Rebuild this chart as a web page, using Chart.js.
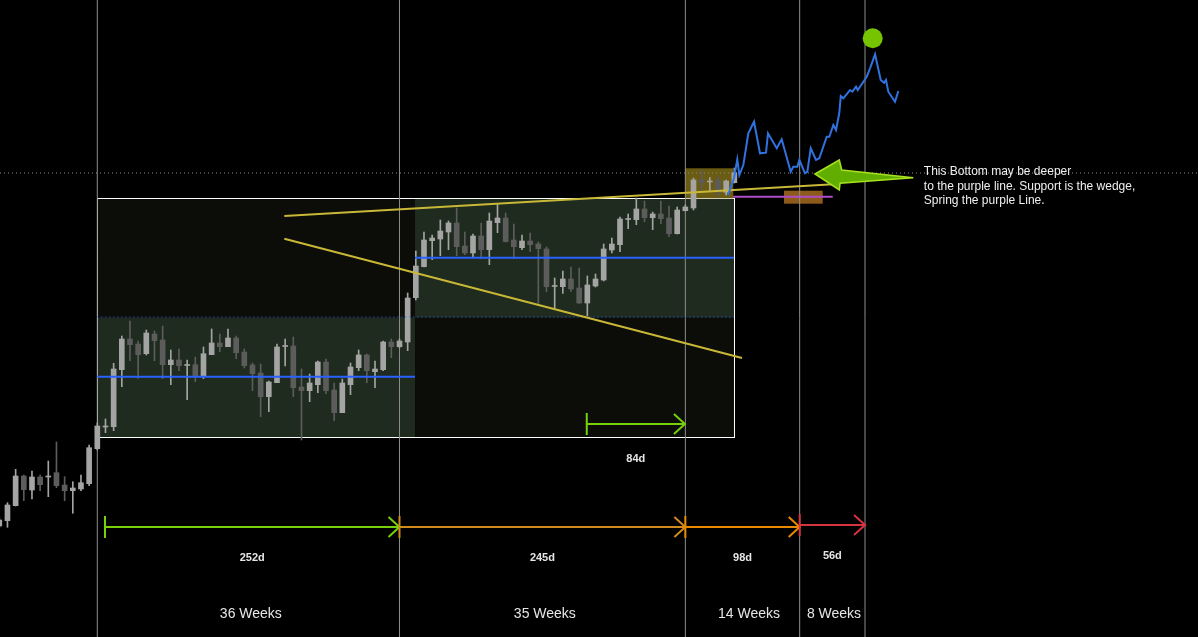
<!DOCTYPE html>
<html lang="en">
<head>
<meta charset="UTF-8">
<title>Weekly wedge projection</title>
<script src="https://cdn.jsdelivr.net/npm/chart.js"></script>
<style>
  html, body { margin: 0; padding: 0; background: #000; overflow: hidden; }
  canvas { display: block; }
</style>
</head>
<body>
<canvas id="chart" width="1198" height="637"></canvas>
<script>
// weekly candles, week 0 = first divider
const firstWeek = -12;
const opens = [11.4, 11.93, 13.43, 16.4, 15.0, 16.3, 16.3, 16.73, 15.5, 14.93, 15.1, 15.63,
  19.13, 21.3, 21.33, 27.03, 30.1, 29.6, 28.63, 30.6, 30.0, 27.53, 28.0, 27.45, 27.53, 26.33, 28.53, 29.7,
  29.33, 30.2, 28.8, 27.5, 26.7, 24.33, 25.73, 29.35, 29.4, 25.3, 24.93, 25.53, 27.8, 25.0, 22.73, 25.53,
  27.23, 28.5, 26.83, 27.03, 29.8, 29.33, 29.8, 34.23, 37.33, 39.93, 40.1, 40.8, 41.7, 39.4, 38.7, 40.4,
  39.03, 41.73, 42.2, 40.0, 39.23, 39.9, 39.6, 39.1, 35.35, 35.33, 36.1, 35.2, 33.7, 35.4, 36.0, 39.0,
  39.53, 42.05, 42.03, 43.1, 42.23, 42.6, 42.2, 40.63, 42.93, 43.2, 46.0, 45.8, 46.0, 44.77, 45.73];
const highs = [12.3, 13.73, 17.07, 16.5, 16.9, 16.5, 17.9, 19.8, 16.33, 15.83, 16.5, 19.5,
  21.7, 22.1, 27.67, 30.4, 31.9, 29.9, 31.0, 30.9, 31.4, 29.0, 29.1, 28.0, 28.3, 29.3, 31.1, 30.6,
  31.1, 30.4, 29.1, 27.7, 27.6, 25.9, 29.6, 30.1, 30.3, 27.1, 26.6, 27.9, 28.1, 25.7, 26.1, 27.7,
  29.0, 28.6, 27.9, 29.9, 30.1, 30.1, 34.7, 38.9, 40.8, 40.5, 42.0, 41.9, 43.2, 40.8, 40.6, 41.7,
  42.7, 43.6, 42.7, 41.6, 40.5, 40.7, 39.8, 39.3, 36.2, 36.9, 37.3, 37.2, 36.4, 36.6, 39.6, 40.2,
  42.3, 42.6, 44.2, 43.9, 42.8, 43.9, 43.4, 43.3, 43.5, 46.2, 47.0, 46.23, 46.4, 46.0, 47.2];
const lows = [11.2, 11.27, 13.4, 13.93, 14.1, 14.93, 14.33, 15.23, 13.93, 12.67, 14.93, 15.43,
  19.0, 20.73, 20.93, 25.33, 27.93, 26.17, 28.5, 27.93, 26.13, 25.53, 26.93, 24.03, 25.83, 26.13, 28.53, 28.83,
  29.33, 28.13, 27.2, 24.93, 22.33, 22.83, 25.73, 27.4, 24.33, 20.0, 23.83, 24.73, 24.63, 21.93, 22.73, 24.53,
  26.93, 25.73, 25.23, 26.93, 28.23, 29.2, 28.93, 34.0, 37.3, 38.03, 38.43, 39.03, 38.43, 38.53, 38.23, 38.13,
  37.53, 40.73, 39.8, 38.13, 39.03, 38.83, 33.67, 34.83, 33.17, 34.67, 34.83, 33.65, 32.4, 35.3, 35.9, 38.7,
  38.83, 41.13, 41.53, 41.83, 41.03, 41.63, 40.33, 40.6, 42.9, 43.0, 45.0, 44.93, 44.33, 44.5, 45.7];
const closes = [12.0, 13.5, 16.4, 15.03, 16.3, 15.53, 16.4, 15.43, 14.93, 15.2, 15.73, 19.23,
  21.4, 21.4, 27.1, 30.1, 29.53, 28.53, 30.7, 29.93, 27.53, 28.0, 27.43, 27.55, 26.33, 28.63, 29.7, 29.33,
  30.2, 28.73, 27.43, 26.63, 24.33, 25.8, 29.3, 29.45, 25.23, 24.93, 25.7, 27.8, 24.93, 22.73, 25.7, 27.3,
  28.5, 26.93, 27.1, 29.8, 29.33, 29.9, 34.2, 37.4, 40.0, 40.2, 40.9, 41.7, 39.33, 38.7, 40.4, 39.03,
  41.9, 42.2, 39.83, 39.33, 39.9, 39.53, 39.13, 35.33, 35.45, 36.1, 35.1, 33.7, 35.5, 36.1, 39.1, 39.6,
  42.1, 42.15, 43.1, 42.23, 42.6, 42.13, 40.63, 43.0, 43.3, 46.0, 45.73, 45.9, 44.77, 45.9, 46.73];

// projected path (blue)
const projWeeks = [77.22, 77.96, 78.36, 78.61, 79.10, 79.71, 80.41, 81.14, 81.88, 82.12, 83.19, 83.80,
  84.90, 85.22, 85.71, 85.96, 86.65, 86.94, 87.35, 88.00, 88.40, 89.31, 89.63, 90.12, 90.45, 90.85,
  91.03, 91.34, 92.16, 92.45, 92.90, 93.11, 94.21, 94.61, 95.23, 95.92, 96.33, 96.57, 96.85, 97.67, 98.08];
const projPrices = [44.5, 46.2, 48.07, 46.5, 47.5, 50.67, 51.83, 48.67, 48.73, 50.67, 49.17, 50.07,
  46.83, 47.33, 47.33, 48.0, 46.67, 46.83, 49.17, 48.0, 48.17, 50.33, 50.33, 51.5, 51.0, 52.7,
  54.4, 54.17, 55.0, 54.83, 55.33, 55.0, 56.33, 57.17, 58.57, 56.0, 55.73, 56.0, 54.83, 53.83, 54.9];
const targetPoint = [94.94, 60.17];

// time dividers and measured spans
const dividers = [0, 37, 72, 86, 94];
const spanFrom = [0.94, 37, 72, 86];
const spanTo = [37, 72, 86, 94];
const spanLevel = [11.3, 11.3, 11.3, 11.5];
const spanDays = ['252d', '245d', '98d', '56d'];
const weekLabels = ['36 Weeks', '35 Weeks', '14 Weeks', '8 Weeks'];
const weekLabelAt = [18.8, 54.8, 79.8, 90.2];
const measureFrom = 59.93, measureTo = 71.95, measureLevel = 21.6, measureText = '84d';

// ranges
const rangeBox = [0, 77.96, 44.2, 20.3];          // from, to, top, bottom
const lowerZone = [0, 38.9, 32.25, 20.3];
const upperZone = [38.9, 77.96, 44.2, 32.25];
const midLines = [[0, 38.9, 26.33], [38.9, 77.96, 38.23]];
const dottedLevel = 46.7;
const wedgeUpper = [[22.9, 42.4], [90.12, 45.57]];
const wedgeLower = [[22.9, 40.13], [78.94, 28.2]];
const purpleLine = [77.84, 90.05, 44.33];
const oliveBox = [71.95, 77.87, 47.17, 44.17];
const brownBox = [84.08, 88.82, 44.93, 43.63];
const bigArrow = [[87.88, 46.6], [90.85, 48.0], [91.15, 47.0], [99.91, 46.23], [90.94, 45.67], [90.85, 45.0]];
const noteLines = ['This Bottom may be deeper', 'to the purple line. Support is the wedge,', 'Spring the purple Line.'];
const noteAt = [101.2, [46.8, 45.35, 43.9]];

const spanColors = ['#76d10c', '#d08a1e', '#e88a00', '#d8343f'];
const upColor = '#a4a4a4', downColor = '#5c5c5c';

const weeks = opens.map((_, i) => firstWeek + i);
const candleColors = opens.map((o, i) => closes[i] >= o ? upColor : downColor);

function seg(points, color, width, dash, order) {
  return {
    type: 'line',
    data: points.map(p => ({ x: p[0], y: p[1] })),
    borderColor: color,
    borderWidth: width,
    borderDash: dash || [],
    pointRadius: 0,
    fill: false,
    tension: 0,
    order: order
  };
}

const datasets = [];
datasets.push({
  type: 'bar',
  data: weeks.map((w, i) => ({ x: w, y: [lows[i], highs[i]] })),
  backgroundColor: candleColors,
  barThickness: 1,
  grouped: false,
  order: 6
});
datasets.push({
  type: 'bar',
  data: weeks.map((w, i) => ({ x: w, y: [opens[i], closes[i]] })),
  backgroundColor: candleColors,
  barThickness: 5,
  minBarLength: 1,
  grouped: false,
  order: 5
});
dividers.forEach(d => datasets.push(seg([[d, 0.3], [d, 64]], '#8e8e8e', 1, null, 8)));
datasets.push(seg([[-11.914, dottedLevel], [134.77, dottedLevel]], '#8a8a8a', 1, [1, 3], 7));
datasets.push(seg([[lowerZone[0], 32.3], [upperZone[1], 32.3]], '#2962ff', 1, [1, 3], 4));
midLines.forEach(m => datasets.push(seg([[m[0], m[2]], [m[1], m[2]]], '#2962ff', 2, null, 3)));
datasets.push(seg(wedgeUpper, '#c9b838', 2, null, 2));
datasets.push(seg(wedgeLower, '#c9b838', 2, null, 2));
datasets.push(seg([[purpleLine[0], purpleLine[2]], [purpleLine[1], purpleLine[2]]], '#b04cc8', 2, null, 2));
datasets.push(seg(projWeeks.map((w, i) => [w, projPrices[i]]), '#2f72e0', 2, null, 1));
datasets.push(seg([[measureFrom, measureLevel], [measureTo, measureLevel]], spanColors[0], 2, null, 1));
spanFrom.forEach((f, i) => datasets.push(seg([[f, spanLevel[i]], [spanTo[i], spanLevel[i]]], spanColors[i], 2, null, 1)));

const overlay = {
  id: 'overlay',
  beforeDatasetsDraw(chart) {
    const { ctx, scales: { x, y } } = chart;
    const box = (b, fill) => {
      const x1 = x.getPixelForValue(b[0]), x2 = x.getPixelForValue(b[1]);
      const y1 = y.getPixelForValue(b[2]), y2 = y.getPixelForValue(b[3]);
      ctx.fillStyle = fill;
      ctx.fillRect(x1, y1, x2 - x1, y2 - y1);
      return [x1, y1, x2, y2];
    };
    ctx.save();
    const r = box(rangeBox, '#0c0c09');
    box(lowerZone, '#1e2b1e');
    box(upperZone, '#1e2b1e');
    ctx.strokeStyle = '#ffffff';
    ctx.lineWidth = 1;
    ctx.strokeRect(Math.round(r[0]) + 0.5, Math.round(r[1]) + 0.5, Math.round(r[2] - r[0]), Math.round(r[3] - r[1]));
    box(oliveBox, '#6a5c12');
    box(brownBox, '#8c5a1a');
    ctx.restore();
  },
  afterDatasetsDraw(chart) {
    const { ctx, scales: { x, y } } = chart;
    ctx.save();
    // arrow heads and start ticks
    const head = (from, to, lvl, color) => {
      const x1 = x.getPixelForValue(from), x2 = x.getPixelForValue(to), yy = y.getPixelForValue(lvl);
      ctx.strokeStyle = color;
      ctx.lineWidth = 2;
      ctx.beginPath();
      ctx.moveTo(x1, yy - 11); ctx.lineTo(x1, yy + 11);
      ctx.moveTo(x2 - 11, yy - 10); ctx.lineTo(x2, yy); ctx.lineTo(x2 - 11, yy + 10);
      ctx.stroke();
    };
    spanFrom.forEach((f, i) => head(f, spanTo[i], spanLevel[i], spanColors[i]));
    head(measureFrom, measureTo, measureLevel, spanColors[0]);

    ctx.fillStyle = '#e6e6e6';
    ctx.textAlign = 'center';
    ctx.textBaseline = 'middle';
    ctx.font = 'bold 11px "Liberation Sans"';
    spanFrom.forEach((f, i) => {
      ctx.fillText(spanDays[i], x.getPixelForValue((f + spanTo[i]) / 2), y.getPixelForValue(spanLevel[i] - 3.1));
    });
    ctx.fillText(measureText, x.getPixelForValue((measureFrom + measureTo) / 2), y.getPixelForValue(measureLevel - 3.5));
    ctx.font = '14px "Liberation Sans"';
    weekLabels.forEach((t, i) => ctx.fillText(t, x.getPixelForValue(weekLabelAt[i]), y.getPixelForValue(2.6)));

    // big green arrow
    ctx.beginPath();
    bigArrow.forEach((p, i) => {
      const px = x.getPixelForValue(p[0]), py = y.getPixelForValue(p[1]);
      if (i === 0) ctx.moveTo(px, py); else ctx.lineTo(px, py);
    });
    ctx.closePath();
    ctx.fillStyle = '#62ae00';
    ctx.fill();
    ctx.strokeStyle = '#a6e01e';
    ctx.lineWidth = 1.5;
    ctx.stroke();

    // target dot
    ctx.beginPath();
    ctx.arc(x.getPixelForValue(targetPoint[0]), y.getPixelForValue(targetPoint[1]), 10, 0, Math.PI * 2);
    ctx.fillStyle = '#76c300';
    ctx.fill();

    // note
    ctx.fillStyle = '#f0f0f0';
    ctx.textAlign = 'left';
    ctx.font = '12px "Liberation Sans"';
    noteLines.forEach((t, i) => ctx.fillText(t, x.getPixelForValue(noteAt[0]), y.getPixelForValue(noteAt[1][i])));
    ctx.restore();
  }
};

new Chart(document.getElementById('chart'), {
  type: 'bar',
  data: { datasets: datasets },
  options: {
    responsive: false,
    animation: false,
    events: [],
    layout: { padding: 0 },
    plugins: { legend: { display: false }, tooltip: { enabled: false } },
    scales: {
      x: { type: 'linear', min: -11.914, max: 134.77, offset: false, display: false },
      y: { type: 'linear', min: 0.3, max: 64, display: false }
    }
  },
  plugins: [overlay]
});
</script>
</body>
</html>
